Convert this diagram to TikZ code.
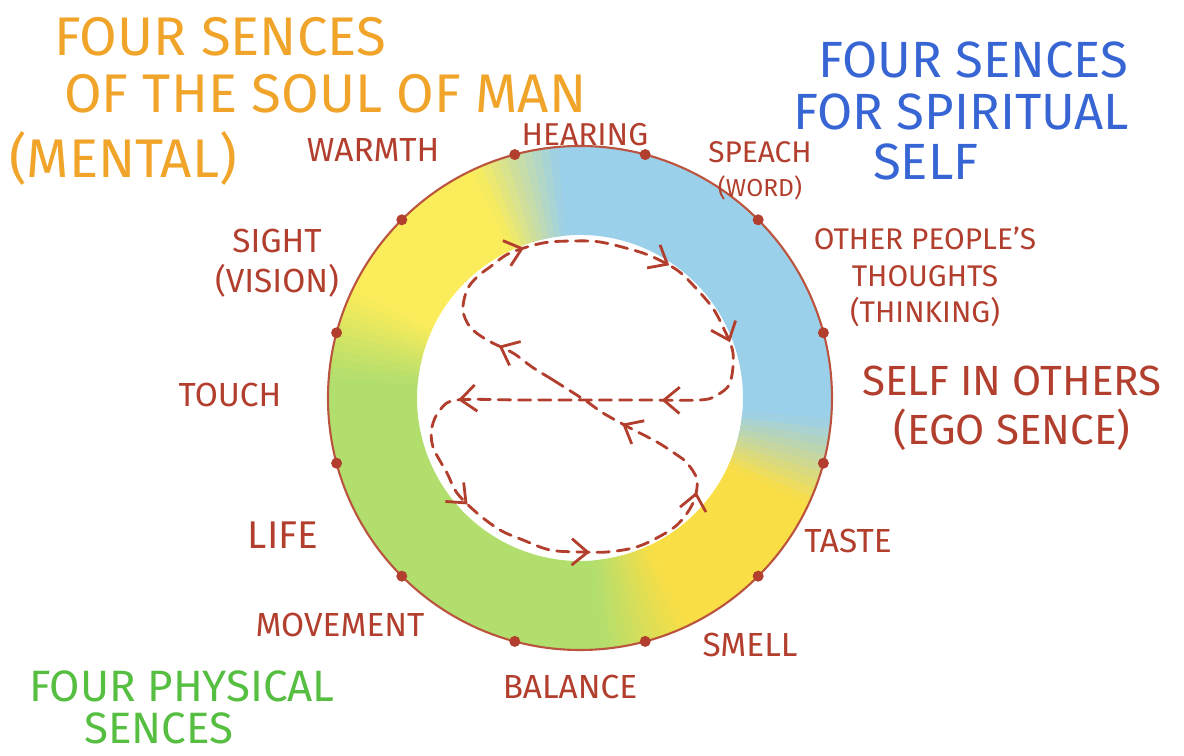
\documentclass[tikz,border=0pt]{standalone}
\usepackage{fontspec}
\setmainfont{Fira Sans}
\usetikzlibrary{arrows.meta,decorations.markings}
\definecolor{senred}{RGB}{178,62,45}
\definecolor{ringline}{RGB}{186,84,62}
\definecolor{ringY}{RGB}{250,236,90}
\definecolor{ringYb}{RGB}{250,222,70}
\definecolor{ringB}{RGB}{155,208,234}
\definecolor{ringG}{RGB}{178,222,110}
\definecolor{soulorange}{RGB}{240,164,42}
\definecolor{spiritblue}{RGB}{55,102,212}
\definecolor{bodygreen}{RGB}{86,190,64}
\newcommand{\ringpart}[3]{\fill[#3] (#1:252) arc[start angle=#1, end angle=#2, radius=252] -- (#2:163) arc[start angle=#2, end angle=#1, radius=163] -- cycle;}
\tikzset{
  sence/.style={text=senred, font=\fontsize{19}{23}\selectfont, align=center, inner sep=1pt},
  heading/.style={anchor=west, inner sep=1pt, font=\fontsize{#1}{#1}\selectfont},
  arrowat/.style={postaction={decorate, decoration={markings, mark=at position #1 with {\arrow[solid]{Straight Barb[length=9pt,width=15pt,line width=1.6pt]}}}}}
}
\begin{document}
\begin{tikzpicture}[x=0.02cm, y=0.02cm]
    \useasboundingbox (-580,-358) rectangle (604,398);
    \ringpart{-15}{105}{ringB}
    \ringpart{105}{165}{ringY}
    \ringpart{165}{285}{ringG}
    \ringpart{285}{345}{ringYb}
    \foreach \b/\lo/\hi in {105/ringB/ringY, 165/ringY/ringG, 285/ringG/ringYb, 345/ringYb/ringB}
    \foreach \i in {0,...,9} {
        \pgfmathsetmacro\s{\b-10+2*\i}
        \pgfmathsetmacro\e{\s+2.3}
        \pgfmathtruncatemacro\p{10*\i+5}
        \ringpart{\s}{\e}{\hi!\p!\lo}
    }
    \draw[ringline, line width=1.2pt] (0,0) circle[radius=252];
    \foreach \a in {15,45,...,345}
    \fill[senred] (\a:252) circle[radius=5.5];
    \draw[senred, line width=1.6pt, dash pattern=on 7pt off 4.5pt, line cap=round,
          arrowat/.list={0.047,0.154,0.264,0.337,0.422,0.571,0.665,0.764,0.861,0.940}]
        plot[smooth cycle, tension=0.55] coordinates {
        (6,-3) (-27,18) (-48,31) (-67,45) (-93,58) (-110,71) (-117,88) (-113,108)
        (-103,121) (-90,131) (-70,145) (-37,155) (-7,157) (20,156) (53,148) (73,141)
        (97,128) (113,113) (132,91) (143,71) (153,45) (150,15) (137,3) (120,-2)
        (60,-2) (0,-2) (-60,-2) (-123,-2) (-140,-12) (-148,-29) (-147,-49) (-133,-75)
        (-123,-95) (-103,-115) (-80,-132) (-57,-142) (-30,-152) (0,-154) (27,-154)
        (53,-150) (73,-142) (97,-127) (113,-105) (117,-82) (107,-65) (97,-57)
        (77,-44) (50,-30) (23,-15)};
    \node[sence] (warmth) at (-207,248) {WARMTH};
    \node[sence, font=\fontsize{18}{22}\selectfont] (hearing) at (5,263) {HEARING};
    \node[sence, font=\fontsize{17}{19}\selectfont] (speach) at (180,227) {SPEACH\\{\fontsize{14}{16}\selectfont(WORD)}};
    \node[sence, font=\fontsize{17}{21}\selectfont] (thoughts) at (345,121) {OTHER PEOPLE'S\\THOUGHTS\\(THINKING)};
    \node[sence, font=\fontsize{24}{28}\selectfont] (ego) at (432,-10) {SELF IN OTHERS\\(EGO SENCE)};
    \node[sence] (taste) at (268,-143) {TASTE};
    \node[sence] (smell) at (170,-247) {SMELL};
    \node[sence] (balance) at (-10,-289) {BALANCE};
    \node[sence] (movement) at (-240,-227) {MOVEMENT};
    \node[sence, font=\fontsize{22}{26}\selectfont] (life) at (-297,-137) {LIFE};
    \node[sence] (touch) at (-350,3) {TOUCH};
    \node[sence] (sight) at (-303,135) {SIGHT\\(VISION)};
    \node[heading=31, text=soulorange] (soulA) at (-528,361) {FOUR SENCES};
    \node[heading=31, text=soulorange] (soulB) at (-518,304) {OF THE SOUL OF MAN};
    \node[heading=31, text=soulorange] (soulC) at (-573,240) {(MENTAL)};
    \node[heading=29, text=spiritblue] (spiritA) at (236,338) {FOUR SENCES};
    \node[heading=29, text=spiritblue] (spiritB) at (211,286) {FOR SPIRITUAL};
    \node[heading=29, text=spiritblue] (spiritC) at (291,236) {SELF};
    \node[heading=25, text=bodygreen] (bodyA) at (-553,-288) {FOUR PHYSICAL};
    \node[heading=25, text=bodygreen] (bodyB) at (-498,-330) {SENCES};
\end{tikzpicture}
\end{document}
